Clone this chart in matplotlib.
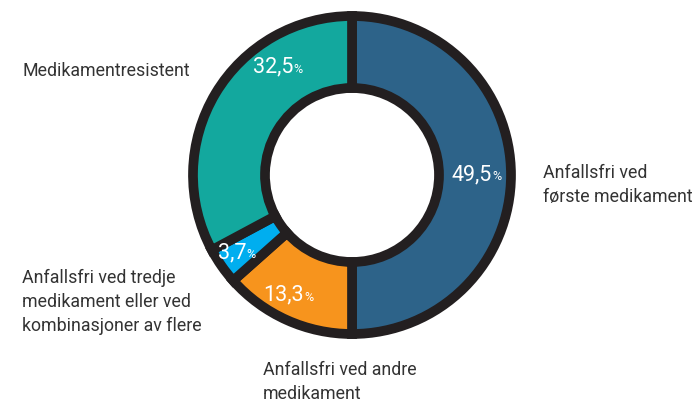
import numpy as np
import matplotlib.pyplot as plt

plt.rcParams['font.family'] = ['Roboto', 'DejaVu Sans']

# data
kategorier = ['Anfallsfri ved\nførste medikament',
              'Anfallsfri ved andre\nmedikament',
              'Anfallsfri ved tredje\nmedikament eller ved\nkombinasjoner av flere',
              'Medikamentresistent']
andel = [49.5, 13.3, 3.7, 32.5]
etiketter = ['49,5', '13,3', '3,7', '32,5']
farger = ['#2d6389', '#f7941d', '#00aeef', '#13a89e']

W, H = 697, 403
fig = plt.figure(figsize=(W / 100, H / 100), dpi=100)
ax = fig.add_axes([0, 0, 1, 1])

cx, cy = 352, 228
r_ut, r_inn = 159, 87
kant = '#231f20'

wedges, _ = ax.pie(andel, colors=farger, startangle=90, counterclock=False,
                   center=(cx, cy), radius=r_ut,
                   wedgeprops=dict(width=r_ut - r_inn, edgecolor=kant,
                                   linewidth=7, joinstyle='miter'))
ax.set_xlim(0, W)
ax.set_ylim(0, H)
ax.set_aspect('equal')
ax.axis('off')

# prosent-etiketter
vinkel_just = [0, 0, 0, -28]
r_etikett = [134, 132, 136, 126]
for w, tekst, dv, r in zip(wedges, etiketter, vinkel_just, r_etikett):
    a = np.deg2rad((w.theta1 + w.theta2) / 2 + dv)
    x, y = cx + r * np.cos(a), cy + r * np.sin(a)
    ax.text(x + 6, y, tekst, color='white', fontsize=15.5, ha='right', va='center')
    ax.text(x + 6, y - 2, '%', color='white', fontsize=9, ha='left', va='center')

# kategori-tekster
tekstfarge = '#333333'
plasser = [(543, 218), (263, 21), (22, 101), (22, 332)]
for navn, (x, y) in zip(kategorier, plasser):
    ax.text(x, y, navn, color=tekstfarge, fontsize=12.8, ha='left', va='center',
            linespacing=1.45)

fig.savefig('out.png', dpi=100)
